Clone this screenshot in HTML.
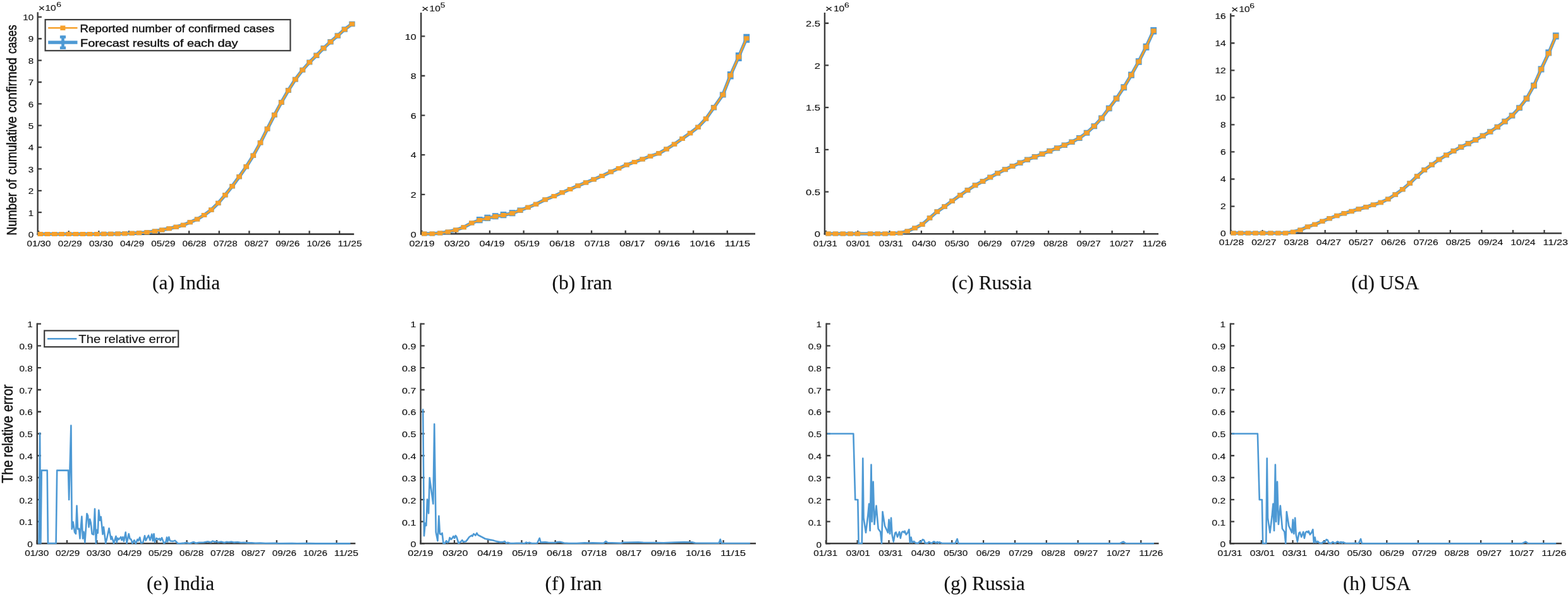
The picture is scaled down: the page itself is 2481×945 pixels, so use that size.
<!DOCTYPE html>
<html lang="en"><head><meta charset="utf-8"><title>Forecast results and relative error</title>
<style>html,body{margin:0;padding:0;background:#fff}body{width:2481px;height:945px}svg{display:block}text{fill:#111;stroke:#111;stroke-width:0.15px}.b text{stroke-width:0.4px}#ytitles text{stroke-width:0.5px}</style>
</head><body>
<svg width="2481" height="945" viewBox="0 0 2481 945">
<rect width="2481" height="945" fill="#fff"/>
<g id="panel-a">
<path d="M59.7 19.2V371.9" fill="none" stroke="#3c3c3c" stroke-width="2.4"/>
<path d="M58.5 370.6H560.2" fill="none" stroke="#3c3c3c" stroke-width="2.6"/>
<path d="M59.7 370.5h6.2M59.7 336.14h6.2M59.7 301.78h6.2M59.7 267.42h6.2M59.7 233.06h6.2M59.7 198.7h6.2M59.7 164.34h6.2M59.7 129.98h6.2M59.7 95.62h6.2M59.7 61.26h6.2M59.7 26.9h6.2M61.15 370.6v-5.3M108.75 370.6v-5.3M156.35 370.6v-5.3M203.95 370.6v-5.3M251.55 370.6v-5.3M299.15 370.6v-5.3M346.75 370.6v-5.3M394.35 370.6v-5.3M441.95 370.6v-5.3M489.55 370.6v-5.3M537.15 370.6v-5.3" fill="none" stroke="#3c3c3c" stroke-width="2.3"/>
<path d="M63.75 370.5 L75 370.5 L86.25 370.5 L97.5 370.5 L108.75 370.5 L120 370.5 L131 370.5 L142 370.5 L153.25 370.5 L164.25 370.25 L175.25 370.25 L186.5 370 L197.5 369.75 L208.75 369.25 L220 368.75 L232.5 367.75 L245 366 L256.25 364 L267.5 361.75 L278.75 359.25 L290 356.25 L300.75 351.75 L312 347 L323 340.5 L334.25 332.25 L345.25 321.5 L356.25 308.75 L367.5 294.75 L378.5 279.75 L389.75 263.75 L400.75 246.25 L412 226 L423 204 L434.25 182 L445.25 162 L456.25 143 L467.25 125.75 L478.75 110.75 L489.75 98.5 L500.75 87.75 L512 76.25 L523 66.25 L534.25 56.5 L545.25 46.5 L557 38" fill="none" stroke="#4D99D4" stroke-width="5.5" stroke-linejoin="round" stroke-linecap="round"/>
<path d="M59.5 366.9h8.5v7.2h-8.5zM70.75 366.9h8.5v7.2h-8.5zM82 366.9h8.5v7.2h-8.5zM93.25 366.9h8.5v7.2h-8.5zM104.5 366.9h8.5v7.2h-8.5zM115.75 366.9h8.5v7.2h-8.5zM126.75 366.9h8.5v7.2h-8.5zM137.75 366.9h8.5v7.2h-8.5zM149 366.9h8.5v7.2h-8.5zM160 366.65h8.5v7.2h-8.5zM171 366.65h8.5v7.2h-8.5zM182.25 366.4h8.5v7.2h-8.5zM193.25 366.15h8.5v7.2h-8.5zM204.5 365.65h8.5v7.2h-8.5zM215.75 365.15h8.5v7.2h-8.5zM228.25 364.15h8.5v7.2h-8.5zM240.75 362.4h8.5v7.2h-8.5zM252 360.4h8.5v7.2h-8.5zM263.25 358.15h8.5v7.21h-8.5zM274.5 355.65h8.51v7.21h-8.51zM285.75 352.64h8.51v7.21h-8.51zM296.49 348.14h8.51v7.22h-8.51zM307.74 343.39h8.52v7.23h-8.52zM318.74 336.88h8.52v7.24h-8.52zM329.98 328.62h8.54v7.25h-8.54zM340.97 317.86h8.55v7.28h-8.55zM351.96 305.09h8.57v7.31h-8.57zM363.2 291.07h8.6v7.35h-8.6zM374.19 276.05h8.63v7.4h-8.63zM385.42 260.02h8.67v7.45h-8.67zM396.4 242.49h8.71v7.52h-8.71zM407.62 222.2h8.76v7.6h-8.76zM418.59 200.15h8.82v7.7h-8.82zM429.81 178.1h8.89v7.8h-8.89zM440.77 158.05h8.95v7.9h-8.95zM451.74 139h9.02v7.99h-9.02zM462.71 121.71h9.07v8.08h-9.07zM474.19 106.67h9.13v8.17h-9.13zM485.16 94.38h9.17v8.24h-9.17zM496.14 83.6h9.21v8.3h-9.21zM507.37 72.07h9.26v8.37h-9.26zM518.35 62.04h9.3v8.43h-9.3zM529.58 52.26h9.34v8.48h-9.34zM540.56 42.23h9.38v8.55h-9.38zM552.29 33.7h9.41v8.6h-9.41z" fill="#4D99D4"/>
<path d="M63.75 370.5 L75 370.5 L86.25 370.5 L97.5 370.5 L108.75 370.5 L120 370.5 L131 370.5 L142 370.5 L153.25 370.5 L164.25 370.25 L175.25 370.25 L186.5 370 L197.5 369.75 L208.75 369.25 L220 368.75 L232.5 367.75 L245 366 L256.25 364 L267.5 361.75 L278.75 359.25 L290 356.25 L300.75 351.75 L312 347 L323 340.5 L334.25 332.25 L345.25 321.5 L356.25 308.75 L367.5 294.75 L378.5 279.75 L389.75 263.75 L400.75 246.25 L412 226 L423 204 L434.25 182 L445.25 162 L456.25 143 L467.25 125.75 L478.75 110.75 L489.75 98.5 L500.75 87.75 L512 76.25 L523 66.25 L534.25 56.5 L545.25 46.5 L557 38" fill="none" stroke="#F6A02B" stroke-width="2.9" stroke-linejoin="round" stroke-linecap="round"/>
<path d="M59.65 366.9h8.2v7.2h-8.2zM70.9 366.9h8.2v7.2h-8.2zM82.15 366.9h8.2v7.2h-8.2zM93.4 366.9h8.2v7.2h-8.2zM104.65 366.9h8.2v7.2h-8.2zM115.9 366.9h8.2v7.2h-8.2zM126.9 366.9h8.2v7.2h-8.2zM137.9 366.9h8.2v7.2h-8.2zM149.15 366.9h8.2v7.2h-8.2zM160.15 366.65h8.2v7.2h-8.2zM171.15 366.65h8.2v7.2h-8.2zM182.4 366.4h8.2v7.2h-8.2zM193.4 366.15h8.2v7.2h-8.2zM204.65 365.65h8.2v7.2h-8.2zM215.9 365.15h8.2v7.2h-8.2zM228.4 364.15h8.2v7.2h-8.2zM240.9 362.4h8.2v7.2h-8.2zM252.15 360.4h8.2v7.2h-8.2zM263.4 358.15h8.2v7.2h-8.2zM274.65 355.65h8.2v7.2h-8.2zM285.9 352.65h8.2v7.2h-8.2zM296.65 348.15h8.2v7.2h-8.2zM307.9 343.4h8.2v7.2h-8.2zM318.9 336.9h8.2v7.2h-8.2zM330.15 328.65h8.2v7.2h-8.2zM341.15 317.9h8.2v7.2h-8.2zM352.15 305.15h8.2v7.2h-8.2zM363.4 291.15h8.2v7.2h-8.2zM374.4 276.15h8.2v7.2h-8.2zM385.65 260.15h8.2v7.2h-8.2zM396.65 242.65h8.2v7.2h-8.2zM407.9 222.4h8.2v7.2h-8.2zM418.9 200.4h8.2v7.2h-8.2zM430.15 178.4h8.2v7.2h-8.2zM441.15 158.4h8.2v7.2h-8.2zM452.15 139.4h8.2v7.2h-8.2zM463.15 122.15h8.2v7.2h-8.2zM474.65 107.15h8.2v7.2h-8.2zM485.65 94.9h8.2v7.2h-8.2zM496.65 84.15h8.2v7.2h-8.2zM507.9 72.65h8.2v7.2h-8.2zM518.9 62.65h8.2v7.2h-8.2zM530.15 52.9h8.2v7.2h-8.2zM541.15 42.9h8.2v7.2h-8.2zM552.9 34.4h8.2v7.2h-8.2z" fill="#F6A02B"/>
<text x="44.75" y="375.95" font-size="12.3" text-anchor="start" font-family="'Liberation Sans', sans-serif" textLength="8.45" lengthAdjust="spacingAndGlyphs">0</text>
<text x="44.75" y="341.55" font-size="12.3" text-anchor="start" font-family="'Liberation Sans', sans-serif" textLength="8.45" lengthAdjust="spacingAndGlyphs">1</text>
<text x="44.75" y="307.16" font-size="12.3" text-anchor="start" font-family="'Liberation Sans', sans-serif" textLength="8.45" lengthAdjust="spacingAndGlyphs">2</text>
<text x="44.75" y="272.76" font-size="12.3" text-anchor="start" font-family="'Liberation Sans', sans-serif" textLength="8.45" lengthAdjust="spacingAndGlyphs">3</text>
<text x="44.75" y="238.37" font-size="12.3" text-anchor="start" font-family="'Liberation Sans', sans-serif" textLength="8.45" lengthAdjust="spacingAndGlyphs">4</text>
<text x="44.75" y="203.97" font-size="12.3" text-anchor="start" font-family="'Liberation Sans', sans-serif" textLength="8.45" lengthAdjust="spacingAndGlyphs">5</text>
<text x="44.75" y="169.58" font-size="12.3" text-anchor="start" font-family="'Liberation Sans', sans-serif" textLength="8.45" lengthAdjust="spacingAndGlyphs">6</text>
<text x="44.75" y="135.19" font-size="12.3" text-anchor="start" font-family="'Liberation Sans', sans-serif" textLength="8.45" lengthAdjust="spacingAndGlyphs">7</text>
<text x="44.75" y="100.79" font-size="12.3" text-anchor="start" font-family="'Liberation Sans', sans-serif" textLength="8.45" lengthAdjust="spacingAndGlyphs">8</text>
<text x="44.75" y="66.39" font-size="12.3" text-anchor="start" font-family="'Liberation Sans', sans-serif" textLength="8.45" lengthAdjust="spacingAndGlyphs">9</text>
<text x="36.31" y="32" font-size="12.3" text-anchor="start" font-family="'Liberation Sans', sans-serif" textLength="16.89" lengthAdjust="spacingAndGlyphs">10</text>
<text x="42.5" y="390.2" font-size="12.3" text-anchor="start" font-family="'Liberation Sans', sans-serif" textLength="38.01" lengthAdjust="spacingAndGlyphs">01/30</text>
<text x="91.71" y="390.2" font-size="12.3" text-anchor="start" font-family="'Liberation Sans', sans-serif" textLength="38.01" lengthAdjust="spacingAndGlyphs">02/29</text>
<text x="140.92" y="390.2" font-size="12.3" text-anchor="start" font-family="'Liberation Sans', sans-serif" textLength="38.01" lengthAdjust="spacingAndGlyphs">03/30</text>
<text x="190.13" y="390.2" font-size="12.3" text-anchor="start" font-family="'Liberation Sans', sans-serif" textLength="38.01" lengthAdjust="spacingAndGlyphs">04/29</text>
<text x="239.34" y="390.2" font-size="12.3" text-anchor="start" font-family="'Liberation Sans', sans-serif" textLength="38.01" lengthAdjust="spacingAndGlyphs">05/29</text>
<text x="288.55" y="390.2" font-size="12.3" text-anchor="start" font-family="'Liberation Sans', sans-serif" textLength="38.01" lengthAdjust="spacingAndGlyphs">06/28</text>
<text x="337.76" y="390.2" font-size="12.3" text-anchor="start" font-family="'Liberation Sans', sans-serif" textLength="38.01" lengthAdjust="spacingAndGlyphs">07/28</text>
<text x="386.97" y="390.2" font-size="12.3" text-anchor="start" font-family="'Liberation Sans', sans-serif" textLength="38.01" lengthAdjust="spacingAndGlyphs">08/27</text>
<text x="436.18" y="390.2" font-size="12.3" text-anchor="start" font-family="'Liberation Sans', sans-serif" textLength="38.01" lengthAdjust="spacingAndGlyphs">09/26</text>
<text x="485.39" y="390.2" font-size="12.3" text-anchor="start" font-family="'Liberation Sans', sans-serif" textLength="38.01" lengthAdjust="spacingAndGlyphs">10/26</text>
<text x="534.6" y="390.2" font-size="12.3" text-anchor="start" font-family="'Liberation Sans', sans-serif" textLength="38.01" lengthAdjust="spacingAndGlyphs">11/25</text>
<text x="60.7" y="18.2" font-size="14.5" text-anchor="start" font-family="'Liberation Sans', sans-serif" textLength="10.33" lengthAdjust="spacingAndGlyphs">×</text>
<text x="71.4" y="16.9" font-size="12.3" text-anchor="start" font-family="'Liberation Sans', sans-serif" textLength="17.23" lengthAdjust="spacingAndGlyphs">10</text>
<text x="89.2" y="10.9" font-size="11" text-anchor="start" font-family="'Liberation Sans', sans-serif" textLength="7.71" lengthAdjust="spacingAndGlyphs">6</text>
<text x="294.7" y="458.1" font-size="31.4" text-anchor="middle" font-family="'Liberation Serif', serif">(a) India</text>
</g>
<g id="panel-b">
<path d="M666.2 20V371.4" fill="none" stroke="#3c3c3c" stroke-width="2.4"/>
<path d="M665 370.1H1195" fill="none" stroke="#3c3c3c" stroke-width="2.6"/>
<path d="M666.2 370.4h6.2M666.2 307.8h6.2M666.2 245.2h6.2M666.2 182.6h6.2M666.2 120h6.2M666.2 57.4h6.2M667.5 370.1v-5.3M721.2 370.1v-5.3M774.9 370.1v-5.3M828.6 370.1v-5.3M882.3 370.1v-5.3M936 370.1v-5.3M989.7 370.1v-5.3M1043.4 370.1v-5.3M1097.1 370.1v-5.3M1150.8 370.1v-5.3" fill="none" stroke="#3c3c3c" stroke-width="2.3"/>
<path d="M671.25 370 L683.75 370 L696.25 369 L708.75 367 L721.25 364 L733.75 359.75 L746.25 353 L758.75 348.5 L771.25 345.38 L783.75 342.62 L796.5 340.5 L810.5 337.62 L823 333 L835.5 328.25 L848 323.25 L862.5 316 L876.75 310.5 L889.5 304.75 L902 299.5 L914.5 294 L927 289 L939.5 284 L952.5 278.5 L966.5 272 L979 266.5 L991.5 261 L1004 256.5 L1016.5 252 L1029 247.25 L1042.5 242.75 L1054.5 236 L1067 228.25 L1079.5 219.5 L1092 210.75 L1104.5 201.25 L1117 188 L1129.5 170.25 L1143.75 150 L1155.75 119.25 L1168.75 90 L1181.25 60.75" fill="none" stroke="#4D99D4" stroke-width="5.5" stroke-linejoin="round" stroke-linecap="round"/>
<path d="M667 366.4h8.5v7.2h-8.5zM679.5 366.4h8.5v7.2h-8.5zM692 365.4h8.5v7.2h-8.5zM704.5 363.4h8.5v7.2h-8.5zM717 360.4h8.5v7.2h-8.5zM729.5 356.15h8.5v7.2h-8.5zM742 349.4h8.5v7.2h-8.5zM753.85 343h9.8v10.2h-9.8zM766.35 339.67h9.8v10.4h-9.8zM778.85 337.22h9.8v10.1h-9.8zM791.6 335.1h9.8v10.1h-9.8zM805.6 332.22h9.8v10.1h-9.8zM818.36 328.6h9.28v8.4h-9.28zM831.25 324.65h8.5v7.2h-8.5zM843.75 319.65h8.5v7.2h-8.5zM858.25 312.4h8.5v7.2h-8.5zM872.5 306.9h8.5v7.2h-8.5zM885.25 301.15h8.5v7.2h-8.5zM897.75 295.9h8.5v7.2h-8.5zM910.25 290.4h8.5v7.2h-8.5zM922.75 285.4h8.5v7.2h-8.5zM935.25 280.4h8.5v7.2h-8.5zM948.25 274.9h8.5v7.2h-8.5zM962.25 268.4h8.5v7.2h-8.5zM974.75 262.9h8.5v7.2h-8.5zM987.25 257.4h8.5v7.2h-8.5zM999.75 252.9h8.5v7.2h-8.5zM1012.25 248.4h8.5v7.2h-8.5zM1024.75 243.65h8.5v7.2h-8.5zM1038.25 239.15h8.5v7.2h-8.5zM1050.25 232.4h8.5v7.2h-8.5zM1062.75 224.65h8.5v7.2h-8.5zM1075.25 215.9h8.5v7.2h-8.5zM1087.75 207.15h8.5v7.2h-8.5zM1100.25 197.65h8.5v7.2h-8.5zM1112.75 184.4h8.5v7.2h-8.5zM1124.86 166.05h9.28v8.4h-9.28zM1138.85 145.4h9.8v9.2h-9.8zM1150.85 112.95h9.8v12.6h-9.8zM1163.85 83.1h9.8v13.8h-9.8zM1176.35 53.85h9.8v13.8h-9.8z" fill="#4D99D4"/>
<path d="M671.25 370 L683.75 370 L696.25 369 L708.75 367 L721.25 364 L733.75 359.75 L746.25 353 L758.75 348.5 L771.25 345.38 L783.75 342.62 L796.5 340.5 L810.5 337.62 L823 333 L835.5 328.25 L848 323.25 L862.5 316 L876.75 310.5 L889.5 304.75 L902 299.5 L914.5 294 L927 289 L939.5 284 L952.5 278.5 L966.5 272 L979 266.5 L991.5 261 L1004 256.5 L1016.5 252 L1029 247.25 L1042.5 242.75 L1054.5 236 L1067 228.25 L1079.5 219.5 L1092 210.75 L1104.5 201.25 L1117 188 L1129.5 170.25 L1143.75 150 L1155.75 119.25 L1168.75 90 L1181.25 60.75" fill="none" stroke="#F6A02B" stroke-width="2.9" stroke-linejoin="round" stroke-linecap="round"/>
<path d="M667.15 366.4h8.2v7.2h-8.2zM679.65 366.4h8.2v7.2h-8.2zM692.15 365.4h8.2v7.2h-8.2zM704.65 363.4h8.2v7.2h-8.2zM717.15 360.4h8.2v7.2h-8.2zM729.65 356.15h8.2v7.2h-8.2zM742.15 349.4h8.2v7.2h-8.2zM754.65 344.9h8.2v7.2h-8.2zM767.15 341.77h8.2v7.2h-8.2zM779.65 339.02h8.2v7.2h-8.2zM792.4 336.9h8.2v7.2h-8.2zM806.4 334.02h8.2v7.2h-8.2zM818.9 329.4h8.2v7.2h-8.2zM831.4 324.65h8.2v7.2h-8.2zM843.9 319.65h8.2v7.2h-8.2zM858.4 312.4h8.2v7.2h-8.2zM872.65 306.9h8.2v7.2h-8.2zM885.4 301.15h8.2v7.2h-8.2zM897.9 295.9h8.2v7.2h-8.2zM910.4 290.4h8.2v7.2h-8.2zM922.9 285.4h8.2v7.2h-8.2zM935.4 280.4h8.2v7.2h-8.2zM948.4 274.9h8.2v7.2h-8.2zM962.4 268.4h8.2v7.2h-8.2zM974.9 262.9h8.2v7.2h-8.2zM987.4 257.4h8.2v7.2h-8.2zM999.9 252.9h8.2v7.2h-8.2zM1012.4 248.4h8.2v7.2h-8.2zM1024.9 243.65h8.2v7.2h-8.2zM1038.4 239.15h8.2v7.2h-8.2zM1050.4 232.4h8.2v7.2h-8.2zM1062.9 224.65h8.2v7.2h-8.2zM1075.4 215.9h8.2v7.2h-8.2zM1087.9 207.15h8.2v7.2h-8.2zM1100.4 197.65h8.2v7.2h-8.2zM1112.9 184.4h8.2v7.2h-8.2zM1125.4 166.65h8.2v7.2h-8.2zM1139.65 146.4h8.2v7.2h-8.2zM1151.65 115.65h8.2v7.2h-8.2zM1164.65 86.4h8.2v7.2h-8.2zM1177.15 57.15h8.2v7.2h-8.2z" fill="#F6A02B"/>
<text x="649.68" y="375.5" font-size="12.3" text-anchor="start" font-family="'Liberation Sans', sans-serif" textLength="8.92" lengthAdjust="spacingAndGlyphs">0</text>
<text x="649.68" y="312.9" font-size="12.3" text-anchor="start" font-family="'Liberation Sans', sans-serif" textLength="8.92" lengthAdjust="spacingAndGlyphs">2</text>
<text x="649.68" y="250.3" font-size="12.3" text-anchor="start" font-family="'Liberation Sans', sans-serif" textLength="8.92" lengthAdjust="spacingAndGlyphs">4</text>
<text x="649.68" y="187.7" font-size="12.3" text-anchor="start" font-family="'Liberation Sans', sans-serif" textLength="8.92" lengthAdjust="spacingAndGlyphs">6</text>
<text x="649.68" y="125.1" font-size="12.3" text-anchor="start" font-family="'Liberation Sans', sans-serif" textLength="8.92" lengthAdjust="spacingAndGlyphs">8</text>
<text x="640.75" y="62.5" font-size="12.3" text-anchor="start" font-family="'Liberation Sans', sans-serif" textLength="17.85" lengthAdjust="spacingAndGlyphs">10</text>
<text x="647.42" y="389.7" font-size="12.3" text-anchor="start" font-family="'Liberation Sans', sans-serif" textLength="40.16" lengthAdjust="spacingAndGlyphs">02/19</text>
<text x="702.91" y="389.7" font-size="12.3" text-anchor="start" font-family="'Liberation Sans', sans-serif" textLength="40.16" lengthAdjust="spacingAndGlyphs">03/20</text>
<text x="758.4" y="389.7" font-size="12.3" text-anchor="start" font-family="'Liberation Sans', sans-serif" textLength="40.16" lengthAdjust="spacingAndGlyphs">04/19</text>
<text x="813.89" y="389.7" font-size="12.3" text-anchor="start" font-family="'Liberation Sans', sans-serif" textLength="40.16" lengthAdjust="spacingAndGlyphs">05/19</text>
<text x="869.38" y="389.7" font-size="12.3" text-anchor="start" font-family="'Liberation Sans', sans-serif" textLength="40.16" lengthAdjust="spacingAndGlyphs">06/18</text>
<text x="924.86" y="389.7" font-size="12.3" text-anchor="start" font-family="'Liberation Sans', sans-serif" textLength="40.16" lengthAdjust="spacingAndGlyphs">07/18</text>
<text x="980.35" y="389.7" font-size="12.3" text-anchor="start" font-family="'Liberation Sans', sans-serif" textLength="40.16" lengthAdjust="spacingAndGlyphs">08/17</text>
<text x="1035.84" y="389.7" font-size="12.3" text-anchor="start" font-family="'Liberation Sans', sans-serif" textLength="40.16" lengthAdjust="spacingAndGlyphs">09/16</text>
<text x="1091.33" y="389.7" font-size="12.3" text-anchor="start" font-family="'Liberation Sans', sans-serif" textLength="40.16" lengthAdjust="spacingAndGlyphs">10/16</text>
<text x="1146.82" y="389.7" font-size="12.3" text-anchor="start" font-family="'Liberation Sans', sans-serif" textLength="40.16" lengthAdjust="spacingAndGlyphs">11/15</text>
<text x="666.9" y="19.3" font-size="14.5" text-anchor="start" font-family="'Liberation Sans', sans-serif" textLength="11.52" lengthAdjust="spacingAndGlyphs">×</text>
<text x="679.6" y="18" font-size="12.3" text-anchor="start" font-family="'Liberation Sans', sans-serif" textLength="17.23" lengthAdjust="spacingAndGlyphs">10</text>
<text x="696.8" y="12" font-size="11" text-anchor="start" font-family="'Liberation Sans', sans-serif" textLength="7.71" lengthAdjust="spacingAndGlyphs">5</text>
<text x="921" y="458.3" font-size="31.4" text-anchor="middle" font-family="'Liberation Serif', serif">(b) Iran</text>
</g>
<g id="panel-c">
<path d="M1304.9 20V371.5" fill="none" stroke="#3c3c3c" stroke-width="2.4"/>
<path d="M1303.7 370.2H1833" fill="none" stroke="#3c3c3c" stroke-width="2.6"/>
<path d="M1304.9 370.25h6.2M1304.9 303.55h6.2M1304.9 236.85h6.2M1304.9 170.15h6.2M1304.9 103.45h6.2M1304.9 36.75h6.2M1307 370.2v-5.3M1357.29 370.2v-5.3M1407.58 370.2v-5.3M1457.87 370.2v-5.3M1508.16 370.2v-5.3M1558.45 370.2v-5.3M1608.74 370.2v-5.3M1659.03 370.2v-5.3M1709.32 370.2v-5.3M1759.61 370.2v-5.3M1809.9 370.2v-5.3" fill="none" stroke="#3c3c3c" stroke-width="2.3"/>
<path d="M1310.5 370 L1322 370 L1333.75 370 L1345.5 370 L1357 370 L1377 370 L1388.75 370 L1400.5 370 L1412.5 369.5 L1424.25 369 L1435.75 366 L1447.5 361 L1459.25 355.25 L1471 345 L1482.75 335 L1494.5 327 L1506.5 318.25 L1519.25 309 L1531 301 L1543 293.25 L1555 287 L1566.75 280.5 L1578.5 274.25 L1590.25 268.25 L1602 263 L1614 257.75 L1625.5 252.75 L1637.25 248.25 L1649 243.75 L1660.75 239 L1672.5 234.5 L1684.25 229.75 L1696 224.75 L1707.75 218.5 L1719.5 210.25 L1731.25 199.75 L1743 187 L1754.75 171.5 L1766.5 156 L1778.25 138.25 L1790 118.75 L1801.75 97.5 L1813.5 74.25 L1825.25 48.75" fill="none" stroke="#4D99D4" stroke-width="5.5" stroke-linejoin="round" stroke-linecap="round"/>
<path d="M1306.25 366.4h8.5v7.2h-8.5zM1317.75 366.4h8.5v7.2h-8.5zM1329.5 366.4h8.5v7.2h-8.5zM1341.25 366.4h8.5v7.2h-8.5zM1352.75 366.4h8.5v7.2h-8.5zM1372.75 366.4h8.5v7.2h-8.5zM1384.5 366.4h8.5v7.2h-8.5zM1396.25 366.4h8.5v7.2h-8.5zM1408.25 365.9h8.5v7.2h-8.5zM1420 365.4h8.5v7.2h-8.5zM1431.5 362.39h8.51v7.21h-8.51zM1443.24 357.38h8.53v7.24h-8.53zM1454.97 351.61h8.55v7.28h-8.55zM1466.7 341.32h8.6v7.35h-8.6zM1478.42 331.28h8.65v7.44h-8.65zM1490.15 323.25h8.7v7.51h-8.7zM1502.12 314.45h8.76v7.59h-8.76zM1514.84 305.16h8.82v7.69h-8.82zM1526.56 297.11h8.87v7.77h-8.87zM1538.54 289.32h8.93v7.85h-8.93zM1550.51 283.04h8.97v7.92h-8.97zM1562.24 276.5h9.02v8h-9.02zM1573.97 270.21h9.07v8.07h-9.07zM1585.69 264.18h9.11v8.14h-9.11zM1597.42 258.9h9.15v8.21h-9.15zM1609.4 253.61h9.2v8.27h-9.2zM1620.88 248.58h9.24v8.33h-9.24zM1632.61 244.05h9.27v8.39h-9.27zM1644.34 239.53h9.31v8.45h-9.31zM1656.07 234.74h9.35v8.51h-9.35zM1667.81 230.22h9.39v8.57h-9.39zM1679.53 225.43h9.43v8.63h-9.43zM1691.26 220.4h9.47v8.7h-9.47zM1702.99 214.11h9.53v8.78h-9.53zM1714.7 205.8h9.6v8.9h-9.6zM1726.4 195.23h9.7v9.04h-9.7zM1738.1 182.39h9.8v9.22h-9.8zM1749.85 166.78h9.8v9.45h-9.8zM1761.6 151.16h9.8v9.68h-9.8zM1773.35 133.28h9.8v9.95h-9.8zM1785.1 113.62h9.8v10.25h-9.8zM1796.85 92.2h9.8v10.59h-9.8zM1808.6 68.76h9.8v10.97h-9.8zM1820.35 43.05h9.8v11.4h-9.8z" fill="#4D99D4"/>
<path d="M1310.5 370 L1322 370 L1333.75 370 L1345.5 370 L1357 370 L1377 370 L1388.75 370 L1400.5 370 L1412.5 369.5 L1424.25 369 L1435.75 366 L1447.5 361 L1459.25 355.25 L1471 345 L1482.75 335 L1494.5 327 L1506.5 318.25 L1519.25 309 L1531 301 L1543 293.25 L1555 287 L1566.75 280.5 L1578.5 274.25 L1590.25 268.25 L1602 263 L1614 257.75 L1625.5 252.75 L1637.25 248.25 L1649 243.75 L1660.75 239 L1672.5 234.5 L1684.25 229.75 L1696 224.75 L1707.75 218.5 L1719.5 210.25 L1731.25 199.75 L1743 187 L1754.75 171.5 L1766.5 156 L1778.25 138.25 L1790 118.75 L1801.75 97.5 L1813.5 74.25 L1825.25 48.75" fill="none" stroke="#F6A02B" stroke-width="2.9" stroke-linejoin="round" stroke-linecap="round"/>
<path d="M1306.4 366.4h8.2v7.2h-8.2zM1317.9 366.4h8.2v7.2h-8.2zM1329.65 366.4h8.2v7.2h-8.2zM1341.4 366.4h8.2v7.2h-8.2zM1352.9 366.4h8.2v7.2h-8.2zM1372.9 366.4h8.2v7.2h-8.2zM1384.65 366.4h8.2v7.2h-8.2zM1396.4 366.4h8.2v7.2h-8.2zM1408.4 365.9h8.2v7.2h-8.2zM1420.15 365.4h8.2v7.2h-8.2zM1431.65 362.4h8.2v7.2h-8.2zM1443.4 357.4h8.2v7.2h-8.2zM1455.15 351.65h8.2v7.2h-8.2zM1466.9 341.4h8.2v7.2h-8.2zM1478.65 331.4h8.2v7.2h-8.2zM1490.4 323.4h8.2v7.2h-8.2zM1502.4 314.65h8.2v7.2h-8.2zM1515.15 305.4h8.2v7.2h-8.2zM1526.9 297.4h8.2v7.2h-8.2zM1538.9 289.65h8.2v7.2h-8.2zM1550.9 283.4h8.2v7.2h-8.2zM1562.65 276.9h8.2v7.2h-8.2zM1574.4 270.65h8.2v7.2h-8.2zM1586.15 264.65h8.2v7.2h-8.2zM1597.9 259.4h8.2v7.2h-8.2zM1609.9 254.15h8.2v7.2h-8.2zM1621.4 249.15h8.2v7.2h-8.2zM1633.15 244.65h8.2v7.2h-8.2zM1644.9 240.15h8.2v7.2h-8.2zM1656.65 235.4h8.2v7.2h-8.2zM1668.4 230.9h8.2v7.2h-8.2zM1680.15 226.15h8.2v7.2h-8.2zM1691.9 221.15h8.2v7.2h-8.2zM1703.65 214.9h8.2v7.2h-8.2zM1715.4 206.65h8.2v7.2h-8.2zM1727.15 196.15h8.2v7.2h-8.2zM1738.9 183.4h8.2v7.2h-8.2zM1750.65 167.9h8.2v7.2h-8.2zM1762.4 152.4h8.2v7.2h-8.2zM1774.15 134.65h8.2v7.2h-8.2zM1785.9 115.15h8.2v7.2h-8.2zM1797.65 93.9h8.2v7.2h-8.2zM1809.4 70.65h8.2v7.2h-8.2zM1821.15 45.15h8.2v7.2h-8.2z" fill="#F6A02B"/>
<text x="1288.74" y="375.35" font-size="12.3" text-anchor="start" font-family="'Liberation Sans', sans-serif" textLength="9.16" lengthAdjust="spacingAndGlyphs">0</text>
<text x="1274.99" y="308.65" font-size="12.3" text-anchor="start" font-family="'Liberation Sans', sans-serif" textLength="22.91" lengthAdjust="spacingAndGlyphs">0.5</text>
<text x="1288.74" y="241.95" font-size="12.3" text-anchor="start" font-family="'Liberation Sans', sans-serif" textLength="9.16" lengthAdjust="spacingAndGlyphs">1</text>
<text x="1274.99" y="175.25" font-size="12.3" text-anchor="start" font-family="'Liberation Sans', sans-serif" textLength="22.91" lengthAdjust="spacingAndGlyphs">1.5</text>
<text x="1288.74" y="108.55" font-size="12.3" text-anchor="start" font-family="'Liberation Sans', sans-serif" textLength="9.16" lengthAdjust="spacingAndGlyphs">2</text>
<text x="1274.99" y="41.85" font-size="12.3" text-anchor="start" font-family="'Liberation Sans', sans-serif" textLength="22.91" lengthAdjust="spacingAndGlyphs">2.5</text>
<text x="1286.67" y="389.8" font-size="12.3" text-anchor="start" font-family="'Liberation Sans', sans-serif" textLength="38.16" lengthAdjust="spacingAndGlyphs">01/31</text>
<text x="1338.77" y="389.8" font-size="12.3" text-anchor="start" font-family="'Liberation Sans', sans-serif" textLength="38.16" lengthAdjust="spacingAndGlyphs">03/01</text>
<text x="1390.87" y="389.8" font-size="12.3" text-anchor="start" font-family="'Liberation Sans', sans-serif" textLength="38.16" lengthAdjust="spacingAndGlyphs">03/31</text>
<text x="1442.97" y="389.8" font-size="12.3" text-anchor="start" font-family="'Liberation Sans', sans-serif" textLength="38.16" lengthAdjust="spacingAndGlyphs">04/30</text>
<text x="1495.07" y="389.8" font-size="12.3" text-anchor="start" font-family="'Liberation Sans', sans-serif" textLength="38.16" lengthAdjust="spacingAndGlyphs">05/30</text>
<text x="1547.17" y="389.8" font-size="12.3" text-anchor="start" font-family="'Liberation Sans', sans-serif" textLength="38.16" lengthAdjust="spacingAndGlyphs">06/29</text>
<text x="1599.27" y="389.8" font-size="12.3" text-anchor="start" font-family="'Liberation Sans', sans-serif" textLength="38.16" lengthAdjust="spacingAndGlyphs">07/29</text>
<text x="1651.37" y="389.8" font-size="12.3" text-anchor="start" font-family="'Liberation Sans', sans-serif" textLength="38.16" lengthAdjust="spacingAndGlyphs">08/28</text>
<text x="1703.47" y="389.8" font-size="12.3" text-anchor="start" font-family="'Liberation Sans', sans-serif" textLength="38.16" lengthAdjust="spacingAndGlyphs">09/27</text>
<text x="1755.57" y="389.8" font-size="12.3" text-anchor="start" font-family="'Liberation Sans', sans-serif" textLength="38.16" lengthAdjust="spacingAndGlyphs">10/27</text>
<text x="1807.67" y="389.8" font-size="12.3" text-anchor="start" font-family="'Liberation Sans', sans-serif" textLength="38.16" lengthAdjust="spacingAndGlyphs">11/26</text>
<text x="1305.8" y="19.3" font-size="14.5" text-anchor="start" font-family="'Liberation Sans', sans-serif" textLength="11.69" lengthAdjust="spacingAndGlyphs">×</text>
<text x="1319" y="18" font-size="12.3" text-anchor="start" font-family="'Liberation Sans', sans-serif" textLength="17.23" lengthAdjust="spacingAndGlyphs">10</text>
<text x="1336" y="12" font-size="11" text-anchor="start" font-family="'Liberation Sans', sans-serif" textLength="7.71" lengthAdjust="spacingAndGlyphs">6</text>
<text x="1569.2" y="458.3" font-size="31.4" text-anchor="middle" font-family="'Liberation Serif', serif">(c) Russia</text>
</g>
<g id="panel-d">
<path d="M1947.25 21.3V370.6" fill="none" stroke="#3c3c3c" stroke-width="2.4"/>
<path d="M1946.05 369.3H2471" fill="none" stroke="#3c3c3c" stroke-width="2.6"/>
<path d="M1947.25 369.6h6.2M1947.25 326.55h6.2M1947.25 283.5h6.2M1947.25 240.45h6.2M1947.25 197.4h6.2M1947.25 154.35h6.2M1947.25 111.3h6.2M1947.25 68.25h6.2M1947.25 25.2h6.2M1948 369.3v-5.3M1997.55 369.3v-5.3M2047.1 369.3v-5.3M2096.65 369.3v-5.3M2146.2 369.3v-5.3M2195.75 369.3v-5.3M2245.3 369.3v-5.3M2294.85 369.3v-5.3M2344.4 369.3v-5.3M2393.95 369.3v-5.3M2443.5 369.3v-5.3" fill="none" stroke="#3c3c3c" stroke-width="2.3"/>
<path d="M1951.5 369 L1963 369 L1974.75 369 L1986.5 369 L1998 369 L2010.5 369 L2022.25 369 L2034 369 L2046 367.25 L2057.5 364 L2069 359 L2080.5 355.25 L2092.25 350.25 L2103.5 345.75 L2115.25 341.5 L2126.75 337.75 L2138.5 334.5 L2149.75 331 L2161.5 327.75 L2173 324.25 L2184.75 320.5 L2196.25 315.25 L2207.75 308 L2219.25 299.75 L2230.75 290 L2242.25 279 L2253.75 269 L2265.5 260.75 L2277 252.5 L2288.5 245.5 L2300 239 L2311.75 232.75 L2323.25 227.25 L2334.75 221.5 L2346.25 215 L2357.75 208.5 L2369.25 201 L2381 192.25 L2392.5 183 L2404 170.75 L2415.5 156 L2427 135.5 L2438.5 109.5 L2450.25 84.5 L2461.75 57" fill="none" stroke="#4D99D4" stroke-width="5.5" stroke-linejoin="round" stroke-linecap="round"/>
<path d="M1947.25 365.4h8.5v7.2h-8.5zM1958.75 365.4h8.5v7.2h-8.5zM1970.5 365.4h8.5v7.2h-8.5zM1982.25 365.4h8.5v7.2h-8.5zM1993.75 365.4h8.5v7.2h-8.5zM2006.25 365.4h8.5v7.2h-8.5zM2018 365.4h8.5v7.2h-8.5zM2029.75 365.4h8.5v7.2h-8.5zM2041.75 363.65h8.5v7.2h-8.5zM2053.25 360.4h8.5v7.21h-8.5zM2064.74 355.39h8.51v7.22h-8.51zM2076.24 351.64h8.52v7.23h-8.52zM2087.99 346.63h8.53v7.25h-8.53zM2099.23 342.12h8.54v7.26h-8.54zM2110.97 337.86h8.55v7.28h-8.55zM2122.47 334.1h8.57v7.3h-8.57zM2134.21 330.84h8.58v7.32h-8.58zM2145.45 327.33h8.59v7.34h-8.59zM2157.2 324.07h8.6v7.36h-8.6zM2168.69 320.56h8.62v7.38h-8.62zM2180.43 316.8h8.63v7.41h-8.63zM2191.92 311.53h8.66v7.44h-8.66zM2203.4 304.25h8.69v7.5h-8.69zM2214.88 295.97h8.74v7.56h-8.74zM2226.35 286.18h8.79v7.65h-8.79zM2237.82 275.13h8.86v7.75h-8.86zM2249.29 265.08h8.92v7.85h-8.92zM2261.01 256.78h8.98v7.94h-8.98zM2272.48 248.49h9.04v8.03h-9.04zM2283.95 241.44h9.09v8.11h-9.09zM2295.43 234.91h9.14v8.19h-9.14zM2307.15 228.62h9.19v8.26h-9.19zM2318.63 223.08h9.24v8.33h-9.24zM2330.11 217.3h9.29v8.41h-9.29zM2341.58 210.75h9.34v8.49h-9.34zM2353.05 204.21h9.4v8.58h-9.4zM2364.52 196.66h9.47v8.69h-9.47zM2376.23 187.84h9.55v8.81h-9.55zM2387.68 178.52h9.64v8.95h-9.64zM2399.12 166.18h9.76v9.14h-9.76zM2410.6 151.31h9.8v9.37h-9.8zM2422.1 130.64h9.8v9.72h-9.8zM2433.6 104.41h9.8v10.18h-9.8zM2445.35 78.2h9.8v10.4h-9.8zM2456.85 51.4h9.8v11.2h-9.8z" fill="#4D99D4"/>
<path d="M1951.5 369 L1963 369 L1974.75 369 L1986.5 369 L1998 369 L2010.5 369 L2022.25 369 L2034 369 L2046 367.25 L2057.5 364 L2069 359 L2080.5 355.25 L2092.25 350.25 L2103.5 345.75 L2115.25 341.5 L2126.75 337.75 L2138.5 334.5 L2149.75 331 L2161.5 327.75 L2173 324.25 L2184.75 320.5 L2196.25 315.25 L2207.75 308 L2219.25 299.75 L2230.75 290 L2242.25 279 L2253.75 269 L2265.5 260.75 L2277 252.5 L2288.5 245.5 L2300 239 L2311.75 232.75 L2323.25 227.25 L2334.75 221.5 L2346.25 215 L2357.75 208.5 L2369.25 201 L2381 192.25 L2392.5 183 L2404 170.75 L2415.5 156 L2427 135.5 L2438.5 109.5 L2450.25 84.5 L2461.75 57" fill="none" stroke="#F6A02B" stroke-width="2.9" stroke-linejoin="round" stroke-linecap="round"/>
<path d="M1947.4 365.4h8.2v7.2h-8.2zM1958.9 365.4h8.2v7.2h-8.2zM1970.65 365.4h8.2v7.2h-8.2zM1982.4 365.4h8.2v7.2h-8.2zM1993.9 365.4h8.2v7.2h-8.2zM2006.4 365.4h8.2v7.2h-8.2zM2018.15 365.4h8.2v7.2h-8.2zM2029.9 365.4h8.2v7.2h-8.2zM2041.9 363.65h8.2v7.2h-8.2zM2053.4 360.4h8.2v7.2h-8.2zM2064.9 355.4h8.2v7.2h-8.2zM2076.4 351.65h8.2v7.2h-8.2zM2088.15 346.65h8.2v7.2h-8.2zM2099.4 342.15h8.2v7.2h-8.2zM2111.15 337.9h8.2v7.2h-8.2zM2122.65 334.15h8.2v7.2h-8.2zM2134.4 330.9h8.2v7.2h-8.2zM2145.65 327.4h8.2v7.2h-8.2zM2157.4 324.15h8.2v7.2h-8.2zM2168.9 320.65h8.2v7.2h-8.2zM2180.65 316.9h8.2v7.2h-8.2zM2192.15 311.65h8.2v7.2h-8.2zM2203.65 304.4h8.2v7.2h-8.2zM2215.15 296.15h8.2v7.2h-8.2zM2226.65 286.4h8.2v7.2h-8.2zM2238.15 275.4h8.2v7.2h-8.2zM2249.65 265.4h8.2v7.2h-8.2zM2261.4 257.15h8.2v7.2h-8.2zM2272.9 248.9h8.2v7.2h-8.2zM2284.4 241.9h8.2v7.2h-8.2zM2295.9 235.4h8.2v7.2h-8.2zM2307.65 229.15h8.2v7.2h-8.2zM2319.15 223.65h8.2v7.2h-8.2zM2330.65 217.9h8.2v7.2h-8.2zM2342.15 211.4h8.2v7.2h-8.2zM2353.65 204.9h8.2v7.2h-8.2zM2365.15 197.4h8.2v7.2h-8.2zM2376.9 188.65h8.2v7.2h-8.2zM2388.4 179.4h8.2v7.2h-8.2zM2399.9 167.15h8.2v7.2h-8.2zM2411.4 152.4h8.2v7.2h-8.2zM2422.9 131.9h8.2v7.2h-8.2zM2434.4 105.9h8.2v7.2h-8.2zM2446.15 80.9h8.2v7.2h-8.2zM2457.65 53.4h8.2v7.2h-8.2z" fill="#F6A02B"/>
<text x="1931.13" y="374.4" font-size="12.3" text-anchor="start" font-family="'Liberation Sans', sans-serif" textLength="8.72" lengthAdjust="spacingAndGlyphs">0</text>
<text x="1931.13" y="331.35" font-size="12.3" text-anchor="start" font-family="'Liberation Sans', sans-serif" textLength="8.72" lengthAdjust="spacingAndGlyphs">2</text>
<text x="1931.13" y="288.3" font-size="12.3" text-anchor="start" font-family="'Liberation Sans', sans-serif" textLength="8.72" lengthAdjust="spacingAndGlyphs">4</text>
<text x="1931.13" y="245.25" font-size="12.3" text-anchor="start" font-family="'Liberation Sans', sans-serif" textLength="8.72" lengthAdjust="spacingAndGlyphs">6</text>
<text x="1931.13" y="202.2" font-size="12.3" text-anchor="start" font-family="'Liberation Sans', sans-serif" textLength="8.72" lengthAdjust="spacingAndGlyphs">8</text>
<text x="1922.41" y="159.15" font-size="12.3" text-anchor="start" font-family="'Liberation Sans', sans-serif" textLength="17.44" lengthAdjust="spacingAndGlyphs">10</text>
<text x="1922.41" y="116.1" font-size="12.3" text-anchor="start" font-family="'Liberation Sans', sans-serif" textLength="17.44" lengthAdjust="spacingAndGlyphs">12</text>
<text x="1922.41" y="73.05" font-size="12.3" text-anchor="start" font-family="'Liberation Sans', sans-serif" textLength="17.44" lengthAdjust="spacingAndGlyphs">14</text>
<text x="1922.41" y="30" font-size="12.3" text-anchor="start" font-family="'Liberation Sans', sans-serif" textLength="17.44" lengthAdjust="spacingAndGlyphs">16</text>
<text x="1928.88" y="387.7" font-size="12.3" text-anchor="start" font-family="'Liberation Sans', sans-serif" textLength="39.24" lengthAdjust="spacingAndGlyphs">01/28</text>
<text x="1980.16" y="387.7" font-size="12.3" text-anchor="start" font-family="'Liberation Sans', sans-serif" textLength="39.24" lengthAdjust="spacingAndGlyphs">02/27</text>
<text x="2031.43" y="387.7" font-size="12.3" text-anchor="start" font-family="'Liberation Sans', sans-serif" textLength="39.24" lengthAdjust="spacingAndGlyphs">03/28</text>
<text x="2082.71" y="387.7" font-size="12.3" text-anchor="start" font-family="'Liberation Sans', sans-serif" textLength="39.24" lengthAdjust="spacingAndGlyphs">04/27</text>
<text x="2133.98" y="387.7" font-size="12.3" text-anchor="start" font-family="'Liberation Sans', sans-serif" textLength="39.24" lengthAdjust="spacingAndGlyphs">05/27</text>
<text x="2185.26" y="387.7" font-size="12.3" text-anchor="start" font-family="'Liberation Sans', sans-serif" textLength="39.24" lengthAdjust="spacingAndGlyphs">06/26</text>
<text x="2236.53" y="387.7" font-size="12.3" text-anchor="start" font-family="'Liberation Sans', sans-serif" textLength="39.24" lengthAdjust="spacingAndGlyphs">07/26</text>
<text x="2287.81" y="387.7" font-size="12.3" text-anchor="start" font-family="'Liberation Sans', sans-serif" textLength="39.24" lengthAdjust="spacingAndGlyphs">08/25</text>
<text x="2339.08" y="387.7" font-size="12.3" text-anchor="start" font-family="'Liberation Sans', sans-serif" textLength="39.24" lengthAdjust="spacingAndGlyphs">09/24</text>
<text x="2390.36" y="387.7" font-size="12.3" text-anchor="start" font-family="'Liberation Sans', sans-serif" textLength="39.24" lengthAdjust="spacingAndGlyphs">10/24</text>
<text x="2441.63" y="387.7" font-size="12.3" text-anchor="start" font-family="'Liberation Sans', sans-serif" textLength="39.24" lengthAdjust="spacingAndGlyphs">11/23</text>
<text x="1947.9" y="20.4" font-size="14.5" text-anchor="start" font-family="'Liberation Sans', sans-serif" textLength="11.52" lengthAdjust="spacingAndGlyphs">×</text>
<text x="1960.5" y="19.1" font-size="12.3" text-anchor="start" font-family="'Liberation Sans', sans-serif" textLength="17.23" lengthAdjust="spacingAndGlyphs">10</text>
<text x="1977.2" y="13.1" font-size="11" text-anchor="start" font-family="'Liberation Sans', sans-serif" textLength="7.71" lengthAdjust="spacingAndGlyphs">6</text>
<text x="2191.9" y="458.3" font-size="31.4" text-anchor="middle" font-family="'Liberation Serif', serif">(d) USA</text>
</g>
<g id="panel-e">
<path d="M58.8 511.45V861.6" fill="none" stroke="#3c3c3c" stroke-width="2.4"/>
<path d="M57.6 860.3H562.4" fill="none" stroke="#3c3c3c" stroke-width="2.6"/>
<path d="M58.8 860.3h6.2M58.8 825.54h6.2M58.8 790.78h6.2M58.8 756.02h6.2M58.8 721.26h6.2M58.8 686.5h6.2M58.8 651.74h6.2M58.8 616.98h6.2M58.8 582.22h6.2M58.8 547.46h6.2M58.8 512.7h6.2M58.6 860.3v-5.3M106 860.3v-5.3M153.4 860.3v-5.3M200.8 860.3v-5.3M248.2 860.3v-5.3M295.6 860.3v-5.3M343 860.3v-5.3M390.4 860.3v-5.3M437.8 860.3v-5.3M485.2 860.3v-5.3M532.6 860.3v-5.3" fill="none" stroke="#3c3c3c" stroke-width="2.3"/>
<path d="M60.4 860 L61.6 860 L63.1 685.6 L64.4 860 L65.8 744.6 L74.7 744.6 L75.9 860 L88.6 860 L90.2 744.6 L108 744.6 L109.2 791 L112.4 673.5 L113.75 837.5 L115.62 826.25 L118.12 842.5 L120 845 L121.5 800.62 L123.12 837.5 L125 836.88 L126.5 852.5 L129.38 817.5 L131 852.5 L132.5 841.88 L134.38 858.75 L137.5 813.12 L139 816.25 L140.62 834.38 L142.25 821.88 L143.75 827.5 L145.62 845 L148.12 846.25 L150 805.62 L151.88 860 L153.12 838.75 L154.75 843.75 L156.25 807.5 L158.12 823.75 L159.75 818.12 L162.5 845.62 L164 834.38 L167.25 860 L169.38 851.25 L172.5 836.25 L175.62 853.75 L176.88 849.38 L180 860 L183.5 848.75 L184.75 858.75 L186.25 851.88 L188.12 853.75 L191.25 850 L192.5 855 L194.38 850 L196 856.88 L198.75 842.5 L200.62 860 L203.75 845 L205.62 853.12 L207.5 853.75 L209.38 860 L212.5 855 L214.75 860.62 L217.5 853.75 L218.75 856.25 L221.25 850.62 L223.12 859.38 L226.25 858.75 L229 848.12 L230.62 855.62 L235 847.5 L237.5 855 L240.25 845.62 L241.88 856.25 L243.5 845 L245 858.12 L247.5 851.88 L250 853.75 L252.5 852.5 L253.75 855.62 L256 851.25 L259.38 860 L262.5 857.5 L264 850.62 L265.25 857.5 L267.25 850 L269 856.25 L273.75 856.88 L276.88 855.62 L281.25 860 L285 860.25 L291.25 859.62 L295 859 L300 860.25 L306.25 858 L310 859.75 L315 858.75 L322.5 858.5 L328.75 857.25 L333.75 858.5 L336.25 856.5 L340 857.75 L342.5 857 L345 858.5 L350 857.5 L355 859 L358.75 857.75 L362 858.2 L366 857.6 L370 858.6 L376 858 L381 859 L386 858.8 L392 859.4 L398 859.2 L404 859.8 L412 859.5 L420 860 L436 859.7 L441 860.2 L462 860 L470 860.3 L486 860.1 L500 860.4 L554.4 860.4" fill="none" stroke="#4D99D4" stroke-width="2.6" stroke-linejoin="round" stroke-linecap="butt"/>
<text x="43.32" y="866.3" font-size="12.3" text-anchor="start" font-family="'Liberation Sans', sans-serif" textLength="8.48" lengthAdjust="spacingAndGlyphs">0</text>
<text x="30.6" y="831.49" font-size="12.3" text-anchor="start" font-family="'Liberation Sans', sans-serif" textLength="21.2" lengthAdjust="spacingAndGlyphs">0.1</text>
<text x="30.6" y="796.67" font-size="12.3" text-anchor="start" font-family="'Liberation Sans', sans-serif" textLength="21.2" lengthAdjust="spacingAndGlyphs">0.2</text>
<text x="30.6" y="761.86" font-size="12.3" text-anchor="start" font-family="'Liberation Sans', sans-serif" textLength="21.2" lengthAdjust="spacingAndGlyphs">0.3</text>
<text x="30.6" y="727.04" font-size="12.3" text-anchor="start" font-family="'Liberation Sans', sans-serif" textLength="21.2" lengthAdjust="spacingAndGlyphs">0.4</text>
<text x="30.6" y="692.23" font-size="12.3" text-anchor="start" font-family="'Liberation Sans', sans-serif" textLength="21.2" lengthAdjust="spacingAndGlyphs">0.5</text>
<text x="30.6" y="657.41" font-size="12.3" text-anchor="start" font-family="'Liberation Sans', sans-serif" textLength="21.2" lengthAdjust="spacingAndGlyphs">0.6</text>
<text x="30.6" y="622.6" font-size="12.3" text-anchor="start" font-family="'Liberation Sans', sans-serif" textLength="21.2" lengthAdjust="spacingAndGlyphs">0.7</text>
<text x="30.6" y="587.78" font-size="12.3" text-anchor="start" font-family="'Liberation Sans', sans-serif" textLength="21.2" lengthAdjust="spacingAndGlyphs">0.8</text>
<text x="30.6" y="552.97" font-size="12.3" text-anchor="start" font-family="'Liberation Sans', sans-serif" textLength="21.2" lengthAdjust="spacingAndGlyphs">0.9</text>
<text x="43.32" y="518.15" font-size="12.3" text-anchor="start" font-family="'Liberation Sans', sans-serif" textLength="8.48" lengthAdjust="spacingAndGlyphs">1</text>
<text x="39.17" y="879.9" font-size="12.3" text-anchor="start" font-family="'Liberation Sans', sans-serif" textLength="38.16" lengthAdjust="spacingAndGlyphs">01/30</text>
<text x="88.13" y="879.9" font-size="12.3" text-anchor="start" font-family="'Liberation Sans', sans-serif" textLength="38.16" lengthAdjust="spacingAndGlyphs">02/29</text>
<text x="137.1" y="879.9" font-size="12.3" text-anchor="start" font-family="'Liberation Sans', sans-serif" textLength="38.16" lengthAdjust="spacingAndGlyphs">03/30</text>
<text x="186.06" y="879.9" font-size="12.3" text-anchor="start" font-family="'Liberation Sans', sans-serif" textLength="38.16" lengthAdjust="spacingAndGlyphs">04/29</text>
<text x="235.03" y="879.9" font-size="12.3" text-anchor="start" font-family="'Liberation Sans', sans-serif" textLength="38.16" lengthAdjust="spacingAndGlyphs">05/29</text>
<text x="283.99" y="879.9" font-size="12.3" text-anchor="start" font-family="'Liberation Sans', sans-serif" textLength="38.16" lengthAdjust="spacingAndGlyphs">06/28</text>
<text x="332.96" y="879.9" font-size="12.3" text-anchor="start" font-family="'Liberation Sans', sans-serif" textLength="38.16" lengthAdjust="spacingAndGlyphs">07/28</text>
<text x="381.92" y="879.9" font-size="12.3" text-anchor="start" font-family="'Liberation Sans', sans-serif" textLength="38.16" lengthAdjust="spacingAndGlyphs">08/27</text>
<text x="430.89" y="879.9" font-size="12.3" text-anchor="start" font-family="'Liberation Sans', sans-serif" textLength="38.16" lengthAdjust="spacingAndGlyphs">09/26</text>
<text x="479.85" y="879.9" font-size="12.3" text-anchor="start" font-family="'Liberation Sans', sans-serif" textLength="38.16" lengthAdjust="spacingAndGlyphs">10/26</text>
<text x="528.82" y="879.9" font-size="12.3" text-anchor="start" font-family="'Liberation Sans', sans-serif" textLength="38.16" lengthAdjust="spacingAndGlyphs">11/25</text>
<text x="285.6" y="933.7" font-size="31.4" text-anchor="middle" font-family="'Liberation Serif', serif">(e) India</text>
</g>
<g id="panel-f">
<path d="M665.6 511.45V861.6" fill="none" stroke="#3c3c3c" stroke-width="2.4"/>
<path d="M664.4 860.3H1196" fill="none" stroke="#3c3c3c" stroke-width="2.6"/>
<path d="M665.6 860.3h6.2M665.6 825.54h6.2M665.6 790.78h6.2M665.6 756.02h6.2M665.6 721.26h6.2M665.6 686.5h6.2M665.6 651.74h6.2M665.6 616.98h6.2M665.6 582.22h6.2M665.6 547.46h6.2M665.6 512.7h6.2M665.8 860.3v-5.3M719 860.3v-5.3M772.2 860.3v-5.3M825.4 860.3v-5.3M878.6 860.3v-5.3M931.8 860.3v-5.3M985 860.3v-5.3M1038.2 860.3v-5.3M1091.4 860.3v-5.3M1144.6 860.3v-5.3" fill="none" stroke="#3c3c3c" stroke-width="2.3"/>
<path d="M669.2 647.3 L671 848.1 L672.75 828.12 L674.38 831.88 L676 790.62 L678.12 812.5 L679.75 756.25 L685.38 797.5 L687.25 671.25 L689.75 842.5 L692.5 856.25 L694.38 816.88 L696 845 L698.12 846 L699.62 843.75 L701.5 860 L703.75 860 L706.25 856 L708.12 858.75 L710 857.5 L711.62 851 L713.75 853.75 L715.62 851.88 L717.5 848.75 L719.12 851.88 L720.88 847.75 L722.5 850 L725.62 860 L728.75 857.75 L731.25 855 L733.12 857.75 L737.5 856.88 L742.5 850 L746.25 847.5 L747.5 848.75 L749.38 845 L752.5 847.5 L754.38 843.75 L756.25 846.88 L760 848.75 L767.5 852.75 L775 854.38 L780 855.25 L785 856.88 L791.25 858.12 L795 858.12 L798.5 856.88 L801.25 860 L803.12 858.75 L807.5 860 L812.5 860 L817.5 859.75 L825 859.75 L830 860.25 L832.5 858.5 L835 859.75 L837.5 858.75 L841.25 860 L850 859.75 L853.75 851.88 L855.62 858.5 L862.5 858.12 L867.5 858.75 L878.75 859 L881.25 858.12 L886.25 857.75 L892.5 859.5 L900 860 L912.5 860 L925 859.38 L931.88 859.5 L937.5 859.38 L955 859.75 L958.75 856.88 L961.25 859 L982.5 859.75 L986.25 858.75 L1010 858.25 L1017.5 858.75 L1037.5 859 L1050 859.25 L1067.5 858.5 L1082.5 858 L1095 858.25 L1100 859.5 L1137.5 859.75 L1139.75 853.75 L1141.5 859.75 L1186.88 860" fill="none" stroke="#4D99D4" stroke-width="2.6" stroke-linejoin="round" stroke-linecap="butt"/>
<text x="649.47" y="866.4" font-size="12.3" text-anchor="start" font-family="'Liberation Sans', sans-serif" textLength="8.93" lengthAdjust="spacingAndGlyphs">0</text>
<text x="636.07" y="831.57" font-size="12.3" text-anchor="start" font-family="'Liberation Sans', sans-serif" textLength="22.33" lengthAdjust="spacingAndGlyphs">0.1</text>
<text x="636.07" y="796.75" font-size="12.3" text-anchor="start" font-family="'Liberation Sans', sans-serif" textLength="22.33" lengthAdjust="spacingAndGlyphs">0.2</text>
<text x="636.07" y="761.92" font-size="12.3" text-anchor="start" font-family="'Liberation Sans', sans-serif" textLength="22.33" lengthAdjust="spacingAndGlyphs">0.3</text>
<text x="636.07" y="727.1" font-size="12.3" text-anchor="start" font-family="'Liberation Sans', sans-serif" textLength="22.33" lengthAdjust="spacingAndGlyphs">0.4</text>
<text x="636.07" y="692.27" font-size="12.3" text-anchor="start" font-family="'Liberation Sans', sans-serif" textLength="22.33" lengthAdjust="spacingAndGlyphs">0.5</text>
<text x="636.07" y="657.45" font-size="12.3" text-anchor="start" font-family="'Liberation Sans', sans-serif" textLength="22.33" lengthAdjust="spacingAndGlyphs">0.6</text>
<text x="636.07" y="622.62" font-size="12.3" text-anchor="start" font-family="'Liberation Sans', sans-serif" textLength="22.33" lengthAdjust="spacingAndGlyphs">0.7</text>
<text x="636.07" y="587.8" font-size="12.3" text-anchor="start" font-family="'Liberation Sans', sans-serif" textLength="22.33" lengthAdjust="spacingAndGlyphs">0.8</text>
<text x="636.07" y="552.98" font-size="12.3" text-anchor="start" font-family="'Liberation Sans', sans-serif" textLength="22.33" lengthAdjust="spacingAndGlyphs">0.9</text>
<text x="649.47" y="518.15" font-size="12.3" text-anchor="start" font-family="'Liberation Sans', sans-serif" textLength="8.93" lengthAdjust="spacingAndGlyphs">1</text>
<text x="645.3" y="879.9" font-size="12.3" text-anchor="start" font-family="'Liberation Sans', sans-serif" textLength="40.19" lengthAdjust="spacingAndGlyphs">02/19</text>
<text x="700.26" y="879.9" font-size="12.3" text-anchor="start" font-family="'Liberation Sans', sans-serif" textLength="40.19" lengthAdjust="spacingAndGlyphs">03/20</text>
<text x="755.22" y="879.9" font-size="12.3" text-anchor="start" font-family="'Liberation Sans', sans-serif" textLength="40.19" lengthAdjust="spacingAndGlyphs">04/19</text>
<text x="810.17" y="879.9" font-size="12.3" text-anchor="start" font-family="'Liberation Sans', sans-serif" textLength="40.19" lengthAdjust="spacingAndGlyphs">05/19</text>
<text x="865.13" y="879.9" font-size="12.3" text-anchor="start" font-family="'Liberation Sans', sans-serif" textLength="40.19" lengthAdjust="spacingAndGlyphs">06/18</text>
<text x="920.08" y="879.9" font-size="12.3" text-anchor="start" font-family="'Liberation Sans', sans-serif" textLength="40.19" lengthAdjust="spacingAndGlyphs">07/18</text>
<text x="975.04" y="879.9" font-size="12.3" text-anchor="start" font-family="'Liberation Sans', sans-serif" textLength="40.19" lengthAdjust="spacingAndGlyphs">08/17</text>
<text x="1029.99" y="879.9" font-size="12.3" text-anchor="start" font-family="'Liberation Sans', sans-serif" textLength="40.19" lengthAdjust="spacingAndGlyphs">09/16</text>
<text x="1084.95" y="879.9" font-size="12.3" text-anchor="start" font-family="'Liberation Sans', sans-serif" textLength="40.19" lengthAdjust="spacingAndGlyphs">10/16</text>
<text x="1139.9" y="879.9" font-size="12.3" text-anchor="start" font-family="'Liberation Sans', sans-serif" textLength="40.19" lengthAdjust="spacingAndGlyphs">11/15</text>
<text x="907.4" y="933.7" font-size="31.4" text-anchor="middle" font-family="'Liberation Serif', serif">(f) Iran</text>
</g>
<g id="panel-g">
<path d="M1307.5 511.45V861.6" fill="none" stroke="#3c3c3c" stroke-width="2.4"/>
<path d="M1306.3 860.3H1833.5" fill="none" stroke="#3c3c3c" stroke-width="2.6"/>
<path d="M1307.5 860.3h6.2M1307.5 825.54h6.2M1307.5 790.78h6.2M1307.5 756.02h6.2M1307.5 721.26h6.2M1307.5 686.5h6.2M1307.5 651.74h6.2M1307.5 616.98h6.2M1307.5 582.22h6.2M1307.5 547.46h6.2M1307.5 512.7h6.2M1306.8 860.3v-5.3M1356.65 860.3v-5.3M1406.5 860.3v-5.3M1456.35 860.3v-5.3M1506.2 860.3v-5.3M1556.05 860.3v-5.3M1605.9 860.3v-5.3M1655.75 860.3v-5.3M1705.6 860.3v-5.3M1755.45 860.3v-5.3M1805.3 860.3v-5.3" fill="none" stroke="#3c3c3c" stroke-width="2.3"/>
<path d="M1309 686.5 L1350.3 686.5 L1353.2 791 L1357.3 791 L1358.6 860 L1363.8 860 L1365.25 725.6 L1366.5 820 L1370 843.12 L1373.12 817.5 L1375 797.5 L1376.62 840 L1378.5 735.5 L1379.75 825.62 L1381.62 762.5 L1383.5 830 L1386.5 800.62 L1389.62 836.88 L1393.12 841.88 L1395 860 L1396.5 810 L1400 832.5 L1405 843.12 L1406.5 822.5 L1408.12 845 L1410 819.75 L1411.5 846.25 L1413.75 857.5 L1416.25 843.75 L1417.75 842.5 L1420 850 L1423.12 841.88 L1424.75 851.88 L1426.88 842.5 L1428.75 841.25 L1430.62 843.12 L1431.62 840.62 L1433.75 846.25 L1436.25 843.12 L1438.38 838.12 L1439.75 858.75 L1441.62 850.62 L1443.12 858.75 L1446 856.88 L1448.75 859.38 L1452.5 860 L1455 857.5 L1457.5 858.12 L1459.75 854 L1461.88 855 L1463.75 859.38 L1467.5 860 L1470 857.75 L1473.75 860 L1477.5 857.25 L1481.25 859.38 L1483.12 857.75 L1485 859.75 L1486.25 858.12 L1490 859.75 L1502.5 860 L1506.25 859.75 L1511.25 860.25 L1514.62 853.12 L1516.5 860.25 L1600.12 860.25 L1772 860.2 L1777.5 857.5 L1781 860 L1826 860.2" fill="none" stroke="#4D99D4" stroke-width="2.6" stroke-linejoin="round" stroke-linecap="butt"/>
<text x="1291.47" y="866.5" font-size="12.3" text-anchor="start" font-family="'Liberation Sans', sans-serif" textLength="8.43" lengthAdjust="spacingAndGlyphs">0</text>
<text x="1278.84" y="831.66" font-size="12.3" text-anchor="start" font-family="'Liberation Sans', sans-serif" textLength="21.06" lengthAdjust="spacingAndGlyphs">0.1</text>
<text x="1278.84" y="796.83" font-size="12.3" text-anchor="start" font-family="'Liberation Sans', sans-serif" textLength="21.06" lengthAdjust="spacingAndGlyphs">0.2</text>
<text x="1278.84" y="762" font-size="12.3" text-anchor="start" font-family="'Liberation Sans', sans-serif" textLength="21.06" lengthAdjust="spacingAndGlyphs">0.3</text>
<text x="1278.84" y="727.16" font-size="12.3" text-anchor="start" font-family="'Liberation Sans', sans-serif" textLength="21.06" lengthAdjust="spacingAndGlyphs">0.4</text>
<text x="1278.84" y="692.33" font-size="12.3" text-anchor="start" font-family="'Liberation Sans', sans-serif" textLength="21.06" lengthAdjust="spacingAndGlyphs">0.5</text>
<text x="1278.84" y="657.49" font-size="12.3" text-anchor="start" font-family="'Liberation Sans', sans-serif" textLength="21.06" lengthAdjust="spacingAndGlyphs">0.6</text>
<text x="1278.84" y="622.66" font-size="12.3" text-anchor="start" font-family="'Liberation Sans', sans-serif" textLength="21.06" lengthAdjust="spacingAndGlyphs">0.7</text>
<text x="1278.84" y="587.82" font-size="12.3" text-anchor="start" font-family="'Liberation Sans', sans-serif" textLength="21.06" lengthAdjust="spacingAndGlyphs">0.8</text>
<text x="1278.84" y="552.99" font-size="12.3" text-anchor="start" font-family="'Liberation Sans', sans-serif" textLength="21.06" lengthAdjust="spacingAndGlyphs">0.9</text>
<text x="1291.47" y="518.15" font-size="12.3" text-anchor="start" font-family="'Liberation Sans', sans-serif" textLength="8.43" lengthAdjust="spacingAndGlyphs">1</text>
<text x="1287.29" y="879.9" font-size="12.3" text-anchor="start" font-family="'Liberation Sans', sans-serif" textLength="37.91" lengthAdjust="spacingAndGlyphs">01/31</text>
<text x="1338.79" y="879.9" font-size="12.3" text-anchor="start" font-family="'Liberation Sans', sans-serif" textLength="37.91" lengthAdjust="spacingAndGlyphs">03/01</text>
<text x="1390.29" y="879.9" font-size="12.3" text-anchor="start" font-family="'Liberation Sans', sans-serif" textLength="37.91" lengthAdjust="spacingAndGlyphs">03/31</text>
<text x="1441.79" y="879.9" font-size="12.3" text-anchor="start" font-family="'Liberation Sans', sans-serif" textLength="37.91" lengthAdjust="spacingAndGlyphs">04/30</text>
<text x="1493.29" y="879.9" font-size="12.3" text-anchor="start" font-family="'Liberation Sans', sans-serif" textLength="37.91" lengthAdjust="spacingAndGlyphs">05/30</text>
<text x="1544.79" y="879.9" font-size="12.3" text-anchor="start" font-family="'Liberation Sans', sans-serif" textLength="37.91" lengthAdjust="spacingAndGlyphs">06/29</text>
<text x="1596.29" y="879.9" font-size="12.3" text-anchor="start" font-family="'Liberation Sans', sans-serif" textLength="37.91" lengthAdjust="spacingAndGlyphs">07/29</text>
<text x="1647.79" y="879.9" font-size="12.3" text-anchor="start" font-family="'Liberation Sans', sans-serif" textLength="37.91" lengthAdjust="spacingAndGlyphs">08/28</text>
<text x="1699.29" y="879.9" font-size="12.3" text-anchor="start" font-family="'Liberation Sans', sans-serif" textLength="37.91" lengthAdjust="spacingAndGlyphs">09/27</text>
<text x="1750.79" y="879.9" font-size="12.3" text-anchor="start" font-family="'Liberation Sans', sans-serif" textLength="37.91" lengthAdjust="spacingAndGlyphs">10/27</text>
<text x="1802.29" y="879.9" font-size="12.3" text-anchor="start" font-family="'Liberation Sans', sans-serif" textLength="37.91" lengthAdjust="spacingAndGlyphs">11/26</text>
<text x="1557.6" y="933.7" font-size="31.4" text-anchor="middle" font-family="'Liberation Serif', serif">(g) Russia</text>
</g>
<g id="panel-h">
<path d="M1946.9 511.45V861.6" fill="none" stroke="#3c3c3c" stroke-width="2.4"/>
<path d="M1945.7 860.3H2471" fill="none" stroke="#3c3c3c" stroke-width="2.6"/>
<path d="M1946.9 860.3h6.2M1946.9 825.54h6.2M1946.9 790.78h6.2M1946.9 756.02h6.2M1946.9 721.26h6.2M1946.9 686.5h6.2M1946.9 651.74h6.2M1946.9 616.98h6.2M1946.9 582.22h6.2M1946.9 547.46h6.2M1946.9 512.7h6.2M1946.3 860.3v-5.3M1995.9 860.3v-5.3M2045.5 860.3v-5.3M2095.1 860.3v-5.3M2144.7 860.3v-5.3M2194.3 860.3v-5.3M2243.9 860.3v-5.3M2293.5 860.3v-5.3M2343.1 860.3v-5.3M2392.7 860.3v-5.3M2442.3 860.3v-5.3" fill="none" stroke="#3c3c3c" stroke-width="2.3"/>
<path d="M1948.89 686.5 L1989.9 686.5 L1992.78 791 L1996.85 791 L1998.14 860 L2003.3 860 L2004.74 725.6 L2005.99 820 L2009.46 843.12 L2012.56 817.5 L2014.43 797.5 L2016.04 840 L2017.9 735.5 L2019.14 825.62 L2021 762.5 L2022.87 830 L2025.85 800.62 L2028.95 836.88 L2032.42 841.88 L2034.29 860 L2035.78 810 L2039.25 832.5 L2044.22 843.12 L2045.7 822.5 L2047.32 845 L2049.18 819.75 L2050.67 846.25 L2052.9 857.5 L2055.39 843.75 L2056.88 842.5 L2059.11 850 L2062.21 841.88 L2063.83 851.88 L2065.94 842.5 L2067.8 841.25 L2069.66 843.12 L2070.65 840.62 L2072.76 846.25 L2075.25 843.12 L2077.36 838.12 L2078.72 858.75 L2080.58 850.62 L2082.07 858.75 L2084.93 856.88 L2087.66 859.38 L2091.38 860 L2093.86 857.5 L2096.35 858.12 L2098.58 854 L2100.69 855 L2102.55 859.38 L2106.28 860 L2108.76 857.75 L2112.48 860 L2116.21 857.25 L2119.93 859.38 L2121.79 857.75 L2123.65 859.75 L2124.89 858.12 L2128.62 859.75 L2141.03 860 L2144.75 859.75 L2149.72 860.25 L2153.07 853.12 L2154.93 860.25 L2237.97 860.25 L2408.64 860.2 L2414.1 857.5 L2417.58 860 L2462.26 860.2" fill="none" stroke="#4D99D4" stroke-width="2.6" stroke-linejoin="round" stroke-linecap="butt"/>
<text x="1930.61" y="866.4" font-size="12.3" text-anchor="start" font-family="'Liberation Sans', sans-serif" textLength="8.69" lengthAdjust="spacingAndGlyphs">0</text>
<text x="1917.59" y="831.57" font-size="12.3" text-anchor="start" font-family="'Liberation Sans', sans-serif" textLength="21.71" lengthAdjust="spacingAndGlyphs">0.1</text>
<text x="1917.59" y="796.75" font-size="12.3" text-anchor="start" font-family="'Liberation Sans', sans-serif" textLength="21.71" lengthAdjust="spacingAndGlyphs">0.2</text>
<text x="1917.59" y="761.92" font-size="12.3" text-anchor="start" font-family="'Liberation Sans', sans-serif" textLength="21.71" lengthAdjust="spacingAndGlyphs">0.3</text>
<text x="1917.59" y="727.1" font-size="12.3" text-anchor="start" font-family="'Liberation Sans', sans-serif" textLength="21.71" lengthAdjust="spacingAndGlyphs">0.4</text>
<text x="1917.59" y="692.27" font-size="12.3" text-anchor="start" font-family="'Liberation Sans', sans-serif" textLength="21.71" lengthAdjust="spacingAndGlyphs">0.5</text>
<text x="1917.59" y="657.45" font-size="12.3" text-anchor="start" font-family="'Liberation Sans', sans-serif" textLength="21.71" lengthAdjust="spacingAndGlyphs">0.6</text>
<text x="1917.59" y="622.62" font-size="12.3" text-anchor="start" font-family="'Liberation Sans', sans-serif" textLength="21.71" lengthAdjust="spacingAndGlyphs">0.7</text>
<text x="1917.59" y="587.8" font-size="12.3" text-anchor="start" font-family="'Liberation Sans', sans-serif" textLength="21.71" lengthAdjust="spacingAndGlyphs">0.8</text>
<text x="1917.59" y="552.98" font-size="12.3" text-anchor="start" font-family="'Liberation Sans', sans-serif" textLength="21.71" lengthAdjust="spacingAndGlyphs">0.9</text>
<text x="1930.61" y="518.15" font-size="12.3" text-anchor="start" font-family="'Liberation Sans', sans-serif" textLength="8.69" lengthAdjust="spacingAndGlyphs">1</text>
<text x="1926.46" y="879.9" font-size="12.3" text-anchor="start" font-family="'Liberation Sans', sans-serif" textLength="39.08" lengthAdjust="spacingAndGlyphs">01/31</text>
<text x="1977.75" y="879.9" font-size="12.3" text-anchor="start" font-family="'Liberation Sans', sans-serif" textLength="39.08" lengthAdjust="spacingAndGlyphs">03/01</text>
<text x="2029.04" y="879.9" font-size="12.3" text-anchor="start" font-family="'Liberation Sans', sans-serif" textLength="39.08" lengthAdjust="spacingAndGlyphs">03/31</text>
<text x="2080.33" y="879.9" font-size="12.3" text-anchor="start" font-family="'Liberation Sans', sans-serif" textLength="39.08" lengthAdjust="spacingAndGlyphs">04/30</text>
<text x="2131.62" y="879.9" font-size="12.3" text-anchor="start" font-family="'Liberation Sans', sans-serif" textLength="39.08" lengthAdjust="spacingAndGlyphs">05/30</text>
<text x="2182.91" y="879.9" font-size="12.3" text-anchor="start" font-family="'Liberation Sans', sans-serif" textLength="39.08" lengthAdjust="spacingAndGlyphs">06/29</text>
<text x="2234.2" y="879.9" font-size="12.3" text-anchor="start" font-family="'Liberation Sans', sans-serif" textLength="39.08" lengthAdjust="spacingAndGlyphs">07/29</text>
<text x="2285.49" y="879.9" font-size="12.3" text-anchor="start" font-family="'Liberation Sans', sans-serif" textLength="39.08" lengthAdjust="spacingAndGlyphs">08/28</text>
<text x="2336.78" y="879.9" font-size="12.3" text-anchor="start" font-family="'Liberation Sans', sans-serif" textLength="39.08" lengthAdjust="spacingAndGlyphs">09/27</text>
<text x="2388.07" y="879.9" font-size="12.3" text-anchor="start" font-family="'Liberation Sans', sans-serif" textLength="39.08" lengthAdjust="spacingAndGlyphs">10/27</text>
<text x="2439.36" y="879.9" font-size="12.3" text-anchor="start" font-family="'Liberation Sans', sans-serif" textLength="39.08" lengthAdjust="spacingAndGlyphs">11/26</text>
<text x="2178.5" y="933.7" font-size="31.4" text-anchor="middle" font-family="'Liberation Serif', serif">(h) USA</text>
</g>
<g id="ytitles" class="b">
<text transform="translate(26.3 372.5) rotate(-90)" font-size="22.8" font-family="'Liberation Sans', sans-serif" textLength="67.6" lengthAdjust="spacingAndGlyphs">Number</text>
<text transform="translate(26.3 299.5) rotate(-90)" font-size="22.8" font-family="'Liberation Sans', sans-serif" textLength="15.7" lengthAdjust="spacingAndGlyphs">of</text>
<text transform="translate(26.3 276.8) rotate(-90)" font-size="22.8" font-family="'Liberation Sans', sans-serif" textLength="92.7" lengthAdjust="spacingAndGlyphs">cumulative</text>
<text transform="translate(26.3 178.4) rotate(-90)" font-size="22.8" font-family="'Liberation Sans', sans-serif" textLength="87.3" lengthAdjust="spacingAndGlyphs">confirmed</text>
<text transform="translate(26.3 84.9) rotate(-90)" font-size="22.8" font-family="'Liberation Sans', sans-serif" textLength="45.5" lengthAdjust="spacingAndGlyphs">cases</text>
<text transform="translate(20.0 764.7) rotate(-90)" font-size="23.2" font-family="'Liberation Sans', sans-serif" textLength="36.6" lengthAdjust="spacingAndGlyphs">The</text>
<text transform="translate(20.0 723.8) rotate(-90)" font-size="23.2" font-family="'Liberation Sans', sans-serif" textLength="65.7" lengthAdjust="spacingAndGlyphs">relative</text>
<text transform="translate(20.0 651.9) rotate(-90)" font-size="23.2" font-family="'Liberation Sans', sans-serif" textLength="43.3" lengthAdjust="spacingAndGlyphs">error</text>
</g>
<g id="legend-a" class="b">
<rect x="71.6" y="31.1" width="387.8" height="49.1" fill="#fff" stroke="#3c3c3c" stroke-width="2.2"/>
<path d="M76.2 44.25H122.5" stroke="#F6A02B" stroke-width="2.7" fill="none"/>
<rect x="95.4" y="40.5" width="8.0" height="7.5" fill="#F6A02B"/>
<path d="M76.2 67.1H122.5" stroke="#4D99D4" stroke-width="5.3" fill="none"/>
<path d="M99.5 56.5V77.7" stroke="#4D99D4" stroke-width="4.7" fill="none"/>
<path d="M94.9 58.5h9.2M94.9 75.7h9.2" stroke="#4D99D4" stroke-width="4.4" fill="none"/>
<text x="126.6" y="51.3" font-size="15.9" text-anchor="start" font-family="'Liberation Sans', sans-serif" textLength="307.5" lengthAdjust="spacingAndGlyphs">Reported number of confirmed cases</text>
<text x="127" y="73.8" font-size="15.9" text-anchor="start" font-family="'Liberation Sans', sans-serif" textLength="249.5" lengthAdjust="spacingAndGlyphs">Forecast results of each day</text>
</g>
<g id="legend-e">
<rect x="70.2" y="523.4" width="212" height="25.7" fill="#fff" stroke="#3c3c3c" stroke-width="2.2"/>
<path d="M75 536.3H121.4" stroke="#4D99D4" stroke-width="2.5" fill="none"/>
<text x="124.3" y="542.6" font-size="17.9" text-anchor="start" font-family="'Liberation Sans', sans-serif" textLength="154" lengthAdjust="spacingAndGlyphs">The relative error</text>
</g>
</svg>
</body></html>
